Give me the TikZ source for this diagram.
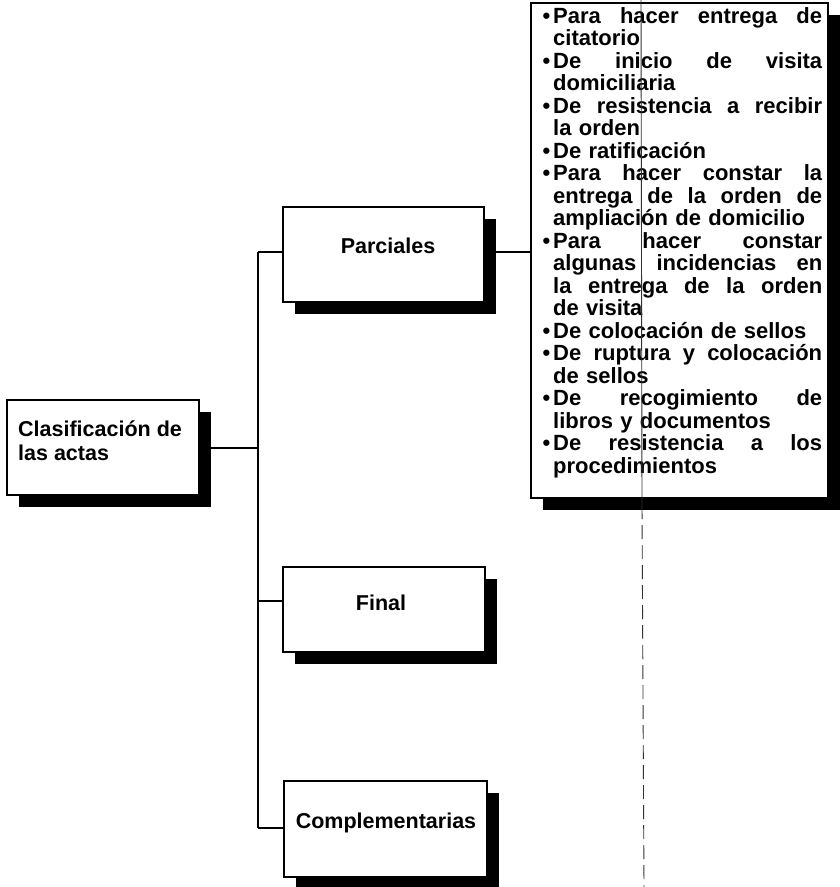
\documentclass[tikz,border=0pt]{standalone}
\usepackage{fontspec}
\setmainfont{Liberation Sans}
\usetikzlibrary{shadows}
\newlength\lw \setlength\lw{269pt}
\newcommand\jline[1]{\makebox[\lw][s]{\spaceskip=0.28em plus 10em\relax #1}}
\newcommand\bul{\leavevmode\llap{\textbullet\hspace{3pt}}}
\begin{document}
\begin{tikzpicture}[x=1pt,y=-1pt,
  box/.style={draw=black, line width=2pt, fill=white, inner sep=0pt,
    drop shadow={shadow xshift=12pt, shadow yshift=-12pt, fill=black, opacity=1}},
  lbl/.style={font=\fontsize{21.5}{23.5}\selectfont\bfseries, inner sep=0pt},
  conn/.style={line width=2pt},
  fold/.style={line width=0.9pt, black!80}]
\useasboundingbox (0,0) rectangle (839,887);

% boxes
\node[box, minimum width=192pt, minimum height=95pt] (clas) at (103,447.5) {};
\node[box, minimum width=201pt, minimum height=95pt] (parc) at (383.5,254.5) {};
\node[box, minimum width=202pt, minimum height=85pt] (final) at (384,609.5) {};
\node[box, minimum width=203pt, minimum height=96pt] (comp) at (385.5,829) {};
\node[box, minimum width=297pt, minimum height=495pt] (list) at (679.5,250.5) {};

% labels
\node[lbl, align=left, anchor=north west] (clasT) at (18,421) {Clasificación de\\las actas};
\node[lbl, anchor=base] (parcT) at (388,253) {Parciales};
\node[lbl, anchor=base] (finalT) at (381,610) {Final};
\node[lbl, anchor=base] (compT) at (386,828) {Complementarias};

\node[anchor=north west, inner sep=0pt, text width=\lw, align=left,
      font=\fontsize{22}{22.5}\selectfont\bfseries] (listT) at (553,7) {%
\bul\jline{Para hacer entrega de}\\
citatorio\\
\bul\jline{De inicio de visita}\\
domiciliaria\\
\bul\jline{De resistencia a recibir}\\
la orden\\
\bul De ratificación\\
\bul\jline{Para hacer constar la}\\
\jline{entrega de la orden de}\\
ampliación de domicilio\\
\bul\jline{Para hacer constar}\\
\jline{algunas incidencias en}\\
\jline{la entrega de la orden}\\
de visita\\
\bul De colocación de sellos\\
\bul\jline{De ruptura y colocación}\\
de sellos\\
\bul\jline{De recogimiento de}\\
libros y documentos\\
\bul\jline{De resistencia a los}\\
procedimientos};

% connectors
\coordinate (tTop) at (258,252);
\coordinate (jF) at (258,601);
\coordinate (tBot) at (258,828);
\draw[conn] (tTop) -- (tBot);
\draw[conn] (clas.east) -- (clas.east -| tTop);
\draw[conn] (tTop) -- (tTop -| parc.west);
\draw[conn] (jF) -- (jF -| final.west);
\draw[conn] (tBot) -- (tBot -| comp.west);
\draw[conn] (tTop -| parc.east) -- (tTop -| list.west);

% scan fold line
\coordinate (f1) at (641,0);
\coordinate (f2) at (642,505);
\coordinate (f3) at (644,887);
\draw[fold] (f1) -- (f2);
\draw[fold, dash pattern=on 14pt off 6pt] (f2) -- (f3);
\end{tikzpicture}
\end{document}
